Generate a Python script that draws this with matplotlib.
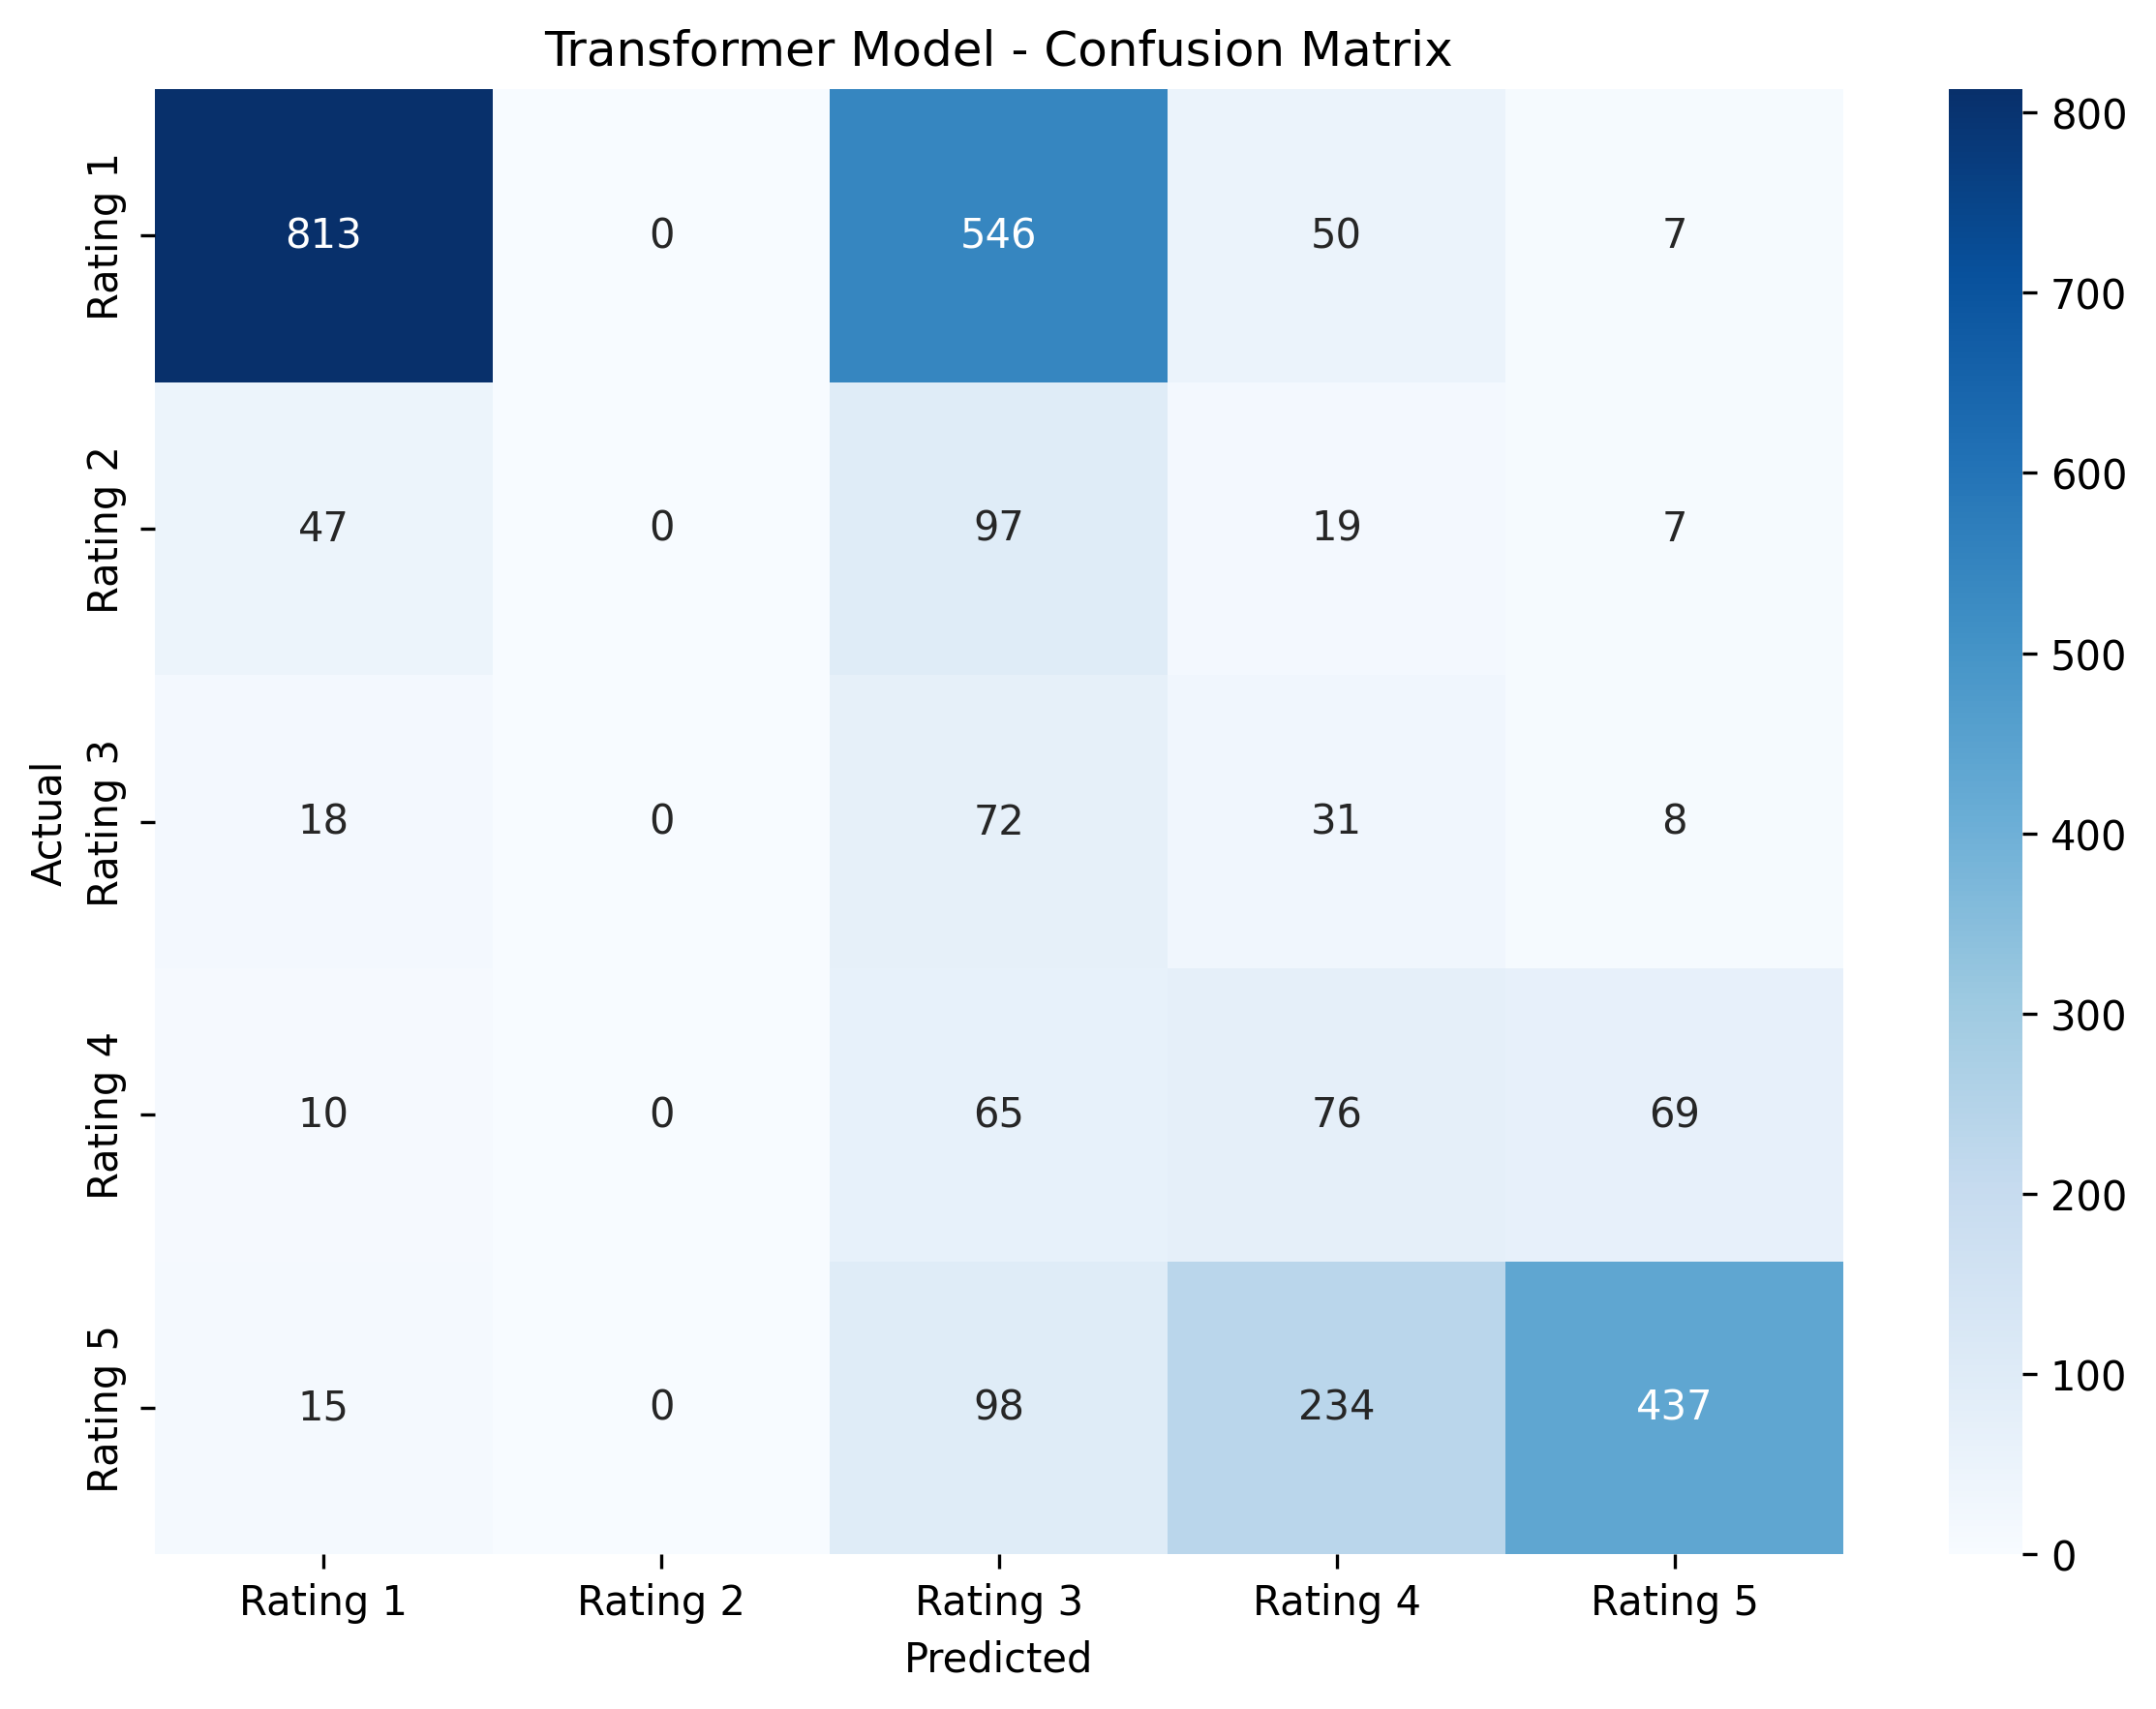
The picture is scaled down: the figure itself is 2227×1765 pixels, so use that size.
import numpy as np
import matplotlib
matplotlib.use("Agg")
import matplotlib.pyplot as plt
import seaborn as sns

# Confusion matrix values (rows = actual, cols = predicted)
labels = ["Rating 1", "Rating 2", "Rating 3", "Rating 4", "Rating 5"]
row_1 = [813, 0, 546, 50, 7]
row_2 = [47, 0, 97, 19, 7]
row_3 = [18, 0, 72, 31, 8]
row_4 = [10, 0, 65, 76, 69]
row_5 = [15, 0, 98, 234, 437]

cm = np.array([row_1, row_2, row_3, row_4, row_5])

plt.figure(figsize=(8, 6))
sns.heatmap(cm, annot=True, fmt="d", cmap="Blues",
            xticklabels=labels, yticklabels=labels)
plt.title("Transformer Model - Confusion Matrix")
plt.xlabel("Predicted")
plt.ylabel("Actual")
plt.tight_layout()
plt.savefig("out.png", dpi=300, bbox_inches="tight")
